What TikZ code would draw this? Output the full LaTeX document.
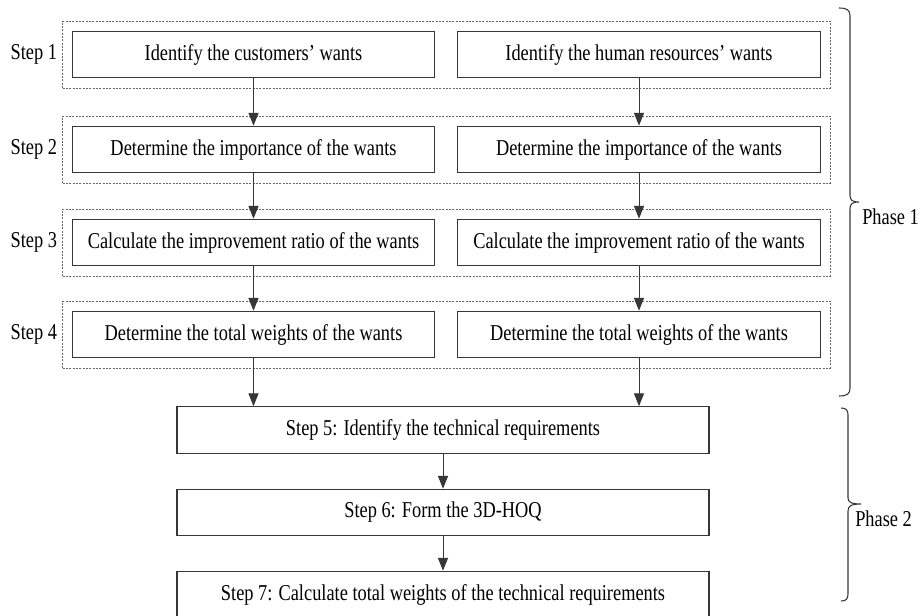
\documentclass[tikz,border=0pt]{standalone}
\usepackage{fontspec}
\setmainfont[FakeStretch=0.81]{Liberation Serif}
\usepackage{tikz}
\usetikzlibrary{arrows.meta, positioning, fit}
\definecolor{boxgray}{RGB}{55, 55, 55}
\definecolor{dashgray}{RGB}{105, 105, 105}

\begin{document}
\begin{tikzpicture}[x=0.75pt, y=-0.75pt,
    font=\fontsize{17}{20}\selectfont,
    stepbox/.style={draw=boxgray, line width=0.8pt, minimum width=272pt,
                    minimum height=35pt, inner sep=0pt},
    widebox/.style={stepbox, minimum width=399pt},
    group/.style={draw=dashgray, line width=0.5pt, dash pattern=on 1.5pt off 1pt,
                  inner xsep=6.75pt, inner ysep=7.3pt},
    steplabel/.style={inner sep=0pt},
    flow/.style={draw=boxgray, line width=0.7pt, -{Triangle[width=7.5pt, length=9.5pt]}},
    phasebrace/.style={draw=boxgray, line width=0.8pt},
    phaselabel/.style={inner sep=0pt, anchor=north west}
]
    \useasboundingbox (0,0) rectangle (924,615);

    % Phase 1: two parallel columns
    \node[stepbox] (c1) at (253.5,54.5) {Identify the customers' wants};
    \node[stepbox] (h1) at (639,54.5) {Identify the human resources' wants};
    \node[stepbox] (c2) at (253.5,149.5) {Determine the importance of the wants};
    \node[stepbox] (h2) at (639,149.5) {Determine the importance of the wants};
    \node[stepbox] (c3) at (253.5,242.5) {Calculate the improvement ratio of the wants};
    \node[stepbox] (h3) at (639,242.5) {Calculate the improvement ratio of the wants};
    \node[stepbox] (c4) at (253.5,334.5) {Determine the total weights of the wants};
    \node[stepbox] (h4) at (639,334.5) {Determine the total weights of the wants};

    \foreach \i in {1,...,4} {
        \node[group, fit=(c\i)(h\i)] (g\i) {};
        \node[steplabel, left=3.75pt of g\i] (lab\i) {Step \i};
    }

    % Phase 2
    \node[widebox] (s5) at (443,430) {Step 5: Identify the technical requirements};
    \node[widebox] (s6) at (443,512.5) {Step 6: Form the 3D-HOQ};
    \node[widebox] (s7) at (443,594.5) {Step 7: Calculate total weights of the technical requirements};

    % arrows
    \foreach \i/\j in {1/2, 2/3, 3/4} {
        \draw[flow] (c\i) -- (c\j);
        \draw[flow] (h\i) -- (h\j);
    }
    \draw[flow] (c4) -- (c4 |- s5.north);
    \draw[flow] (h4) -- (h4 |- s5.north);
    \draw[flow] (s5) -- (s6);
    \draw[flow] (s6) -- (s7);

    % phase braces
    \draw[phasebrace] (839,8) .. controls (847,8) and (850,10) .. (850,16)
        -- (850,195) .. controls (850,200) and (852,202) .. (859,202)
        .. controls (852,202) and (850,204) .. (850,209)
        -- (850,388) .. controls (850,394) and (847,396) .. (839,396);
    \draw[phasebrace] (841,408) .. controls (846,408) and (848,410) .. (848,415)
        -- (848,498) .. controls (848,502) and (851,504) .. (861,504)
        .. controls (851,504) and (848,506) .. (848,511)
        -- (848,594) .. controls (848,599) and (846,601) .. (841,601);
    \node[phaselabel] (ph1) at (862,208.5) {Phase 1};
    \node[phaselabel] (ph2) at (855,510) {Phase 2};
\end{tikzpicture}
\end{document}
